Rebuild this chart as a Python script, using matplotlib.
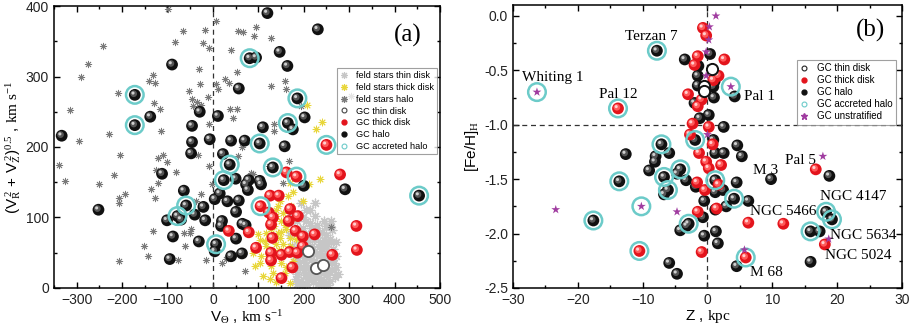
import matplotlib
matplotlib.use("Agg")
import matplotlib.pyplot as plt
from matplotlib.transforms import offset_copy
from matplotlib.lines import Line2D
from matplotlib.ticker import MultipleLocator

plt.rcParams['font.family'] = ['Liberation Sans', 'DejaVu Sans']
plt.rcParams['mathtext.fontset'] = 'custom'
plt.rcParams['mathtext.rm'] = 'Liberation Serif'
plt.rcParams['mathtext.it'] = 'Liberation Serif:italic'

# ---------------- Panel (a) data ----------------
# GC halo: V_theta, sqrt(VR^2+VZ^2), accreted flag
a_halo_v = [231, 120, 147, 164, -90, 81, 95, 57, -172, 186, -172, -138, -29, 11, 202, 110, 165, 176,
            -333, -46, -46, -7, -48, 40, 70, 103, 158, 22, 37, 132, -112, 24, 50, 73, 79, 103, 106, 77,
            200, 291, 454, -252, -64, 15, 4, 32, 57, -59, -21, 51, -40, -78, -70, -101, -17, 20, 18, 65,
            72, -88, -31, 7, 4, 51, 40, 64, -95]
a_halo_y = [367, 390, 335, 315, 317, 326, 327, 283, 274, 269, 231, 243, 250, 244, 242, 228, 234, 225,
            216, 230, 207, 211, 191, 209, 209, 205, 201, 190, 175, 171, 162, 153, 155, 147, 153, 152, 147, 139,
            145, 140, 131, 111, 138, 134, 126, 123, 124, 117, 115, 108, 104, 102, 97, 96, 96, 95, 88, 91,
            89, 73, 66, 62, 52, 70, 45, 49, 41]
a_halo_acc = [0, 0, 0, 0, 0, 1, 0, 0, 1, 1, 1, 0, 0, 0, 0, 0, 1, 0,
              0, 0, 0, 0, 0, 0, 0, 1, 0, 0, 1, 1, 0, 1, 0, 0, 0, 0, 0, 0,
              0, 0, 1, 0, 0, 0, 0, 0, 0, 1, 0, 0, 0, 1, 0, 0, 0, 0, 0, 0,
              0, 0, 0, 1, 0, 0, 0, 0, 0]
a_thick_v = [250, 280, 162, 184, 126, 145, 105, 123, 132, 170, 187, 167, 128, 35, 79, 182, 198, 224,
             131, 95, 128, 151, 169, 186, 198, 128, 175, 151, 263, 316, 317]
a_thick_y = [203, 161, 164, 158, 131, 131, 116, 107, 100, 112, 102, 95, 90, 81, 79, 81, 73, 76,
             71, 57, 50, 47, 51, 50, 59, 39, 29, 14, 47, 88, 54]
a_thick_acc = [1, 0, 0, 1, 0, 0, 1, 0, 0, 0, 0, 0, 0, 0, 0, 0, 0, 0,
               0, 0, 0, 0, 0, 0, 0, 0, 0, 0, 0, 0, 0]
a_thin_v = [209, 226, 242]
a_thin_y = [52, 29, 32]

# field stars
fh_v = [-99, 6, -66, -18, 94, 55, 66, -242, -84, -22, -9, 90, 128, 39, -275, -31, -290, 53, 7, 26, 35, 11,
        -132, -141, -128, -209, -53, -46, -35, -43, -26, -10, -29, -315, -130, -117, 37, 54, 44, 128, 158, 160,
        305, 194, -9, 134, 134, -229, -115, -294, -204, -120, -110, -101, -32, 55, 65, -9, -338, -125, -82, 84,
        -218, -325, -251, -120, -136, -3, -193, -206, -128, -27, -38, -207, 167, 123, 154, 88, -132, -152, -144,
        -207, -76, -16, 20, 70, -51, -64, -49, 259, -62, 29]
fh_y = [396, 379, 365, 366, 370, 365, 363, 344, 349, 347, 341, 358, 354, 338, 318, 311, 300, 307, 289, 296, 291, 282,
        302, 293, 291, 276, 280, 268, 264, 258, 259, 271, 289, 252, 262, 254, 254, 254, 241, 286, 293, 282,
        273, 258, 233, 232, 222, 219, 222, 209, 188, 185, 188, 179, 188, 187, 200, 173, 175, 167, 164, 163,
        160, 152, 148, 149, 141, 147, 134, 128, 127, 133, 123, 121, 180, 173, 149, 162, 81, 59, 46,
        38, 40, 39, 36, 24, 78, 78, 83, 86, 59, 41]
fk_v = [228, 241, 208, 236, 211, 198, 176, 169, 143, 154, 150, 162, 143, 117, 99, 88, 92, 110, 132, 158,
        176, 160, 140, 117, 148, 170, 121, 106, 128, 165, 139, 125, 180, 169, 151, 103, 184, 191, 128, 140,
        169, 147, 132, 154, 103, 172, 135, 158, 115, 145, 160, 125, 150, 138]
fk_y = [226, 235, 259, 154, 147, 123, 136, 149, 116, 107, 95, 83, 78, 78, 76, 50, 31, 17, 21, 21,
        38, 50, 62, 59, 71, 71, 45, 45, 83, 130, 102, 97, 100, 59, 36, 68, 69, 78, 31, 9,
        7, 123, 45, 62, 36, 116, 88, 90, 66, 54, 30, 12, 80, 110]
ft_v = [213, 224, 258, 257, 205, 215, 230, 240, 200, 210, 222, 235, 248, 195, 205, 215, 228, 240, 252, 262,
        190, 200, 212, 225, 238, 250, 262, 270, 185, 195, 208, 220, 232, 245, 258, 268, 180, 190, 198, 185,
        175, 178, 185, 200, 210, 220, 230, 243, 255, 265, 272, 205, 195, 225, 218, 240, 250, 230, 260, 215,
        227, 203, 192, 248, 238, 275, 198, 185, 170, 175, 260, 270, 212, 244,
        207, 217, 233, 246, 256, 266, 197, 188, 182, 223, 236, 252, 212, 202, 228, 244, 263, 191, 219, 238,
        209, 232, 253, 196, 186, 241, 226, 214, 262, 250]
ft_y = [111, 102, 88, 69, 95, 85, 90, 80, 75, 65, 70, 65, 60, 55, 45, 40, 48, 42, 50, 40,
        35, 25, 20, 15, 22, 18, 25, 30, 20, 10, 5, 8, 5, 8, 10, 15, 45, 65, 85, 80,
        60, 30, 5, 40, 30, 55, 35, 30, 35, 55, 45, 110, 120, 120, 60, 55, 75, 78, 65, 12,
        28, 18, 48, 25, 12, 20, 100, 95, 75, 100, 95, 65, 75, 95,
        58, 50, 58, 45, 22, 35, 65, 55, 12, 38, 48, 62, 42, 32, 20, 68, 48, 28, 25, 4,
        14, 14, 4, 4, 40, 36, 85, 92, 82, 88]

CYAN = '#6ccbc9'
PURPLE = '#a03ca0'

# ---------------- Panel (b) data ----------------
b_halo_z = [-7.8, -3.5, 0.4, -1.4, -1.5, 0.9, 1.1, -1.5, 0.9, 1.0, 4.2, -2.0, 0.2, -1.2, 2.5, -1.9, 0.9,
            -7.1, 4.6, -12.6, -8.0, -5.9, -8.1, 1.2, 2.5, 5.3, -9.0, -4.2, -4.7, -6.7, -3.3, -13.6, 1.2,
            4.5, 9.8, 18.8, -6.1, -6.7, -1.8, 1.2, 2.4, 4.1, 6.3, -0.5, 2.9, 1.2, -17.6, -0.7, -2.9, -3.2,
            -4.2, 1.3, -0.5, 1.6, 18.3, 19.2, 15.9, 17.3, -5.9, -4.7, 4.5, 15.9]
b_halo_fe = [-0.32, -0.40, -0.35, -0.46, -0.55, -0.51, -0.60, -0.64, -0.65, -0.75, -0.74, -0.80, -0.91, -0.94,
             -1.02, -1.14, -1.14, -1.18, -1.19, -1.27, -1.29, -1.26, -1.34, -1.26, -1.26, -1.29, -1.42, -1.41,
             -1.45, -1.48, -1.51, -1.52, -1.51, -1.53, -1.50, -1.47, -1.60, -1.64, -1.57, -1.62, -1.60, -1.68,
             -1.70, -1.70, -1.75, -1.78, -1.88, -1.85, -1.91, -1.93, -1.97, -1.98, -2.02, -2.09, -1.80, -1.87,
             -1.98, -1.98, -2.27, -2.37, -2.30, -2.26]
b_halo_acc = [1, 0, 0, 0, 0, 0, 0, 0, 0, 0, 0, 0, 0, 0, 0, 1, 0,
              1, 0, 0, 0, 0, 0, 0, 0, 0, 0, 1, 0, 1, 0, 1, 1,
              0, 0, 0, 1, 0, 0, 0, 0, 1, 0, 0, 0, 0, 1, 0, 1, 0,
              0, 0, 0, 0, 1, 1, 1, 0, 0, 0, 0, 0]
b_thick_z = [-0.7, -0.2, -1.5, 2.6, -2.0, 1.7, 0.9, -3.0, -0.9, -1.5, -13.8, -2.3, 0.2, -2.7, 0.8, -1.3,
             -0.2, 0.2, 2.1, 16.7, -1.6, 1.7, -0.4, 1.4, -1.5, 6.3, 11.7, 18.1, -10.5, -0.9, 5.9]
b_thick_fe = [-0.11, -0.18, -0.37, -0.40, -0.45, -0.55, -0.59, -0.72, -0.77, -0.83, -0.85, -0.99, -1.02,
              -1.09, -1.18, -1.26, -1.34, -1.40, -1.37, -1.41, -1.53, -1.55, -1.60, -1.77, -1.80, -1.90,
              -1.91, -2.10, -2.16, -2.17, -2.22]
b_thick_acc = [0, 0, 0, 0, 0, 0, 0, 0, 0, 0, 1, 0, 0, 0, 0, 0,
               0, 0, 0, 0, 0, 0, 0, 0, 0, 0, 0, 0, 1, 0, 1]
b_thin_z = [0.7, -0.6, -0.5]
b_thin_fe = [-0.49, -0.64, -0.69]
b_uns_z = [1.3, 0.3, 0.2, -0.2, -0.2, 3.6, -26.3, 0.0, 17.8, -23.4, -10.2, -4.7, 5.7, 18.7]
b_uns_fe = [0.0, -0.10, -0.22, -0.33, -0.55, -0.65, -0.70, -1.09, -1.29, -1.78, -1.75, -1.80, -2.15, -2.05]
b_uns_acc = [0, 0, 0, 0, 0, 1, 1, 0, 0, 0, 1, 0, 0, 0]

names = ['Terzan 7', 'Whiting 1', 'Pal 12', 'Pal 1', 'M 3', 'Pal 5', 'NGC 4147', 'NGC 5466',
         'NGC 5634', 'NGC 5024', 'M 68']
name_z = [-8.6, -23.9, -13.8, 5.6, 8.9, 14.4, 22.5, 11.7, 24.0, 23.3, 9.1]
name_fe = [-0.19, -0.57, -0.72, -0.74, -1.42, -1.33, -1.66, -1.80, -2.02, -2.20, -2.36]
name_ha = ['center', 'center', 'center', 'left', 'center', 'center', 'center', 'center', 'center',
           'center', 'center']

fig = plt.figure(figsize=(9.1, 3.36), dpi=100)
axA = fig.add_axes([0.0593, 0.143, 0.4242, 0.839])
axB = fig.add_axes([0.5637, 0.143, 0.4275, 0.842])


def balls(ax, x, y, base, mid, hi, s=72, z=5):
    ax.scatter(x, y, s=s, c=base, edgecolors='none', zorder=z)
    t1 = offset_copy(ax.transData, fig=fig, x=-0.8, y=0.8, units='points')
    ax.scatter(x, y, s=s * 0.32, c=mid, edgecolors='none', zorder=z, transform=t1)
    t2 = offset_copy(ax.transData, fig=fig, x=-1.3, y=1.3, units='points')
    ax.scatter(x, y, s=s * 0.07, c=hi, edgecolors='none', zorder=z, transform=t2)


def rings(ax, x, y, flags, z=7):
    xs = [xx for xx, f in zip(x, flags) if f]
    ys = [yy for yy, f in zip(y, flags) if f]
    ax.scatter(xs, ys, s=160, facecolors='none', edgecolors=CYAN, linewidths=1.8, zorder=z)


def style_axes(ax):
    for sp in ax.spines.values():
        sp.set_linewidth(1.1)
    ax.tick_params(which='both', direction='in', top=True, right=True, labelsize=10,
                   labelcolor='#222222')
    ax.tick_params(which='major', length=4.5, width=1)
    ax.tick_params(which='minor', length=2.5, width=1)


# ---------- Panel (a) ----------
ast = (8, 2, 0)
axA.scatter(ft_v, ft_y, s=40, marker=ast, c='#c6c6c6', linewidths=0.9, zorder=2)
axA.scatter(fk_v, fk_y, s=24, marker=ast, c='#e8d63a', linewidths=0.7, zorder=2)
axA.scatter(fh_v, fh_y, s=22, marker=ast, c='#7a7a7a', linewidths=0.6, zorder=2)
axA.axvline(0, color='#333333', ls=(0, (4, 3)), lw=0.9, zorder=3)
balls(axA, a_halo_v, a_halo_y, '#111111', '#555555', '#cfcfcf')
balls(axA, a_thick_v, a_thick_y, '#e3141c', '#ff5a5a', '#ffd0d0')
axA.scatter(a_thin_v, a_thin_y, s=65, facecolors='white', edgecolors='#555555', linewidths=1.3, zorder=6)
rings(axA, a_halo_v, a_halo_y, a_halo_acc)
rings(axA, a_thick_v, a_thick_y, a_thick_acc)

axA.set_xlim(-350, 500)
axA.set_ylim(0, 400)
axA.xaxis.set_major_locator(MultipleLocator(100))
axA.xaxis.set_minor_locator(MultipleLocator(50))
axA.yaxis.set_major_locator(MultipleLocator(100))
axA.yaxis.set_minor_locator(MultipleLocator(50))
style_axes(axA)
axA.set_xlabel(r'V$_{\Theta}$ , $\mathrm{km\ s^{-1}}$', fontsize=11, labelpad=1)
axA.set_ylabel(r'(V$_{\mathrm{R}}^{\ 2}$ + V$_{\mathrm{Z}}^{\ 2}$)$^{0.5}$ , $\mathrm{km\ s^{-1}}$',
               fontsize=11, labelpad=2)
axA.text(0.917, 0.895, '(a)', transform=axA.transAxes, fontsize=18, family='Liberation Serif',
         ha='center', va='center')

legA = [
    Line2D([], [], ls='none', marker=ast, ms=5, mec='#c6c6c6', mew=0.8, label='feld stars thin disk'),
    Line2D([], [], ls='none', marker=ast, ms=5, mec='#e8d63a', mew=0.8, label='feld stars thick disk'),
    Line2D([], [], ls='none', marker=ast, ms=5, mec='#7a7a7a', mew=0.8, label='feld stars halo'),
    Line2D([], [], ls='none', marker='o', ms=3.5, mfc='white', mec='#444444', mew=0.8, label='GC thin disk'),
    Line2D([], [], ls='none', marker='o', ms=3.5, mfc='#e3141c', mec='#e3141c', label='GC thick disk'),
    Line2D([], [], ls='none', marker='o', ms=3.5, mfc='#111111', mec='#111111', label='GC halo'),
    Line2D([], [], ls='none', marker='o', ms=3.5, mfc='none', mec=CYAN, mew=0.8, label='GC accreted halo'),
]
lA = axA.legend(handles=legA, loc='upper right', bbox_to_anchor=(0.993, 0.78), borderaxespad=0,
                fontsize=6.6, frameon=True, fancybox=False, edgecolor='#888888', handlelength=0.8,
                handletextpad=0.9, labelspacing=0.3, borderpad=0.35)
lA.get_frame().set_linewidth(0.8)
lA.set_zorder(10)

# ---------- Panel (b) ----------
axB.axhline(-1.0, color='#333333', ls=(0, (4, 3)), lw=0.9, zorder=3)
axB.axvline(0, color='#333333', ls=(0, (4, 3)), lw=0.9, zorder=3)
balls(axB, b_halo_z, b_halo_fe, '#111111', '#555555', '#cfcfcf')
balls(axB, b_thick_z, b_thick_fe, '#e3141c', '#ff5a5a', '#ffd0d0')
axB.scatter(b_thin_z, b_thin_fe, s=65, facecolors='white', edgecolors='#111111', linewidths=1.4, zorder=6)
rings(axB, b_halo_z, b_halo_fe, b_halo_acc)
rings(axB, b_thick_z, b_thick_fe, b_thick_acc)
rings(axB, b_uns_z, b_uns_fe, b_uns_acc)
axB.scatter(b_uns_z, b_uns_fe, s=45, marker='*', c=PURPLE, edgecolors='none', zorder=8)
for n, zz, ff, ha in zip(names, name_z, name_fe, name_ha):
    axB.text(zz, ff, n, fontsize=11, family='Liberation Serif', ha=ha, va='center', zorder=9)

axB.set_xlim(-30, 30)
axB.set_ylim(-2.5, 0.1)
axB.xaxis.set_major_locator(MultipleLocator(10))
axB.xaxis.set_minor_locator(MultipleLocator(5))
axB.yaxis.set_major_locator(MultipleLocator(0.5))
axB.yaxis.set_minor_locator(MultipleLocator(0.25))
axB.yaxis.set_major_formatter(matplotlib.ticker.FormatStrFormatter('%.1f'))
style_axes(axB)
axB.set_xlabel(r'Z , $\mathrm{kpc}$', fontsize=11, labelpad=1)
axB.set_ylabel(r'[Fe/H]$_{\mathrm{H}}$', fontsize=11, labelpad=2)
axB.text(0.918, 0.91, '(b)', transform=axB.transAxes, fontsize=18, family='Liberation Serif',
         ha='center', va='center')

legB = [
    Line2D([], [], ls='none', marker='o', ms=3.5, mfc='white', mec='#222222', mew=0.8, label='GC thin disk'),
    Line2D([], [], ls='none', marker='o', ms=3.5, mfc='#e3141c', mec='#e3141c', label='GC thick disk'),
    Line2D([], [], ls='none', marker='o', ms=3.5, mfc='#111111', mec='#111111', label='GC halo'),
    Line2D([], [], ls='none', marker='o', ms=3.5, mfc='none', mec=CYAN, mew=0.8, label='GC accreted halo'),
    Line2D([], [], ls='none', marker='*', ms=5, mfc=PURPLE, mec=PURPLE, label='GC unstratified'),
]
lB = axB.legend(handles=legB, loc='upper right', bbox_to_anchor=(0.985, 0.806), borderaxespad=0,
                fontsize=7, frameon=True, fancybox=False, edgecolor='#888888', handlelength=0.8,
                handletextpad=0.9, labelspacing=0.2, borderpad=0.35)
lB.get_frame().set_linewidth(0.8)
lB.set_zorder(10)

fig.savefig('out.png', dpi=100)
